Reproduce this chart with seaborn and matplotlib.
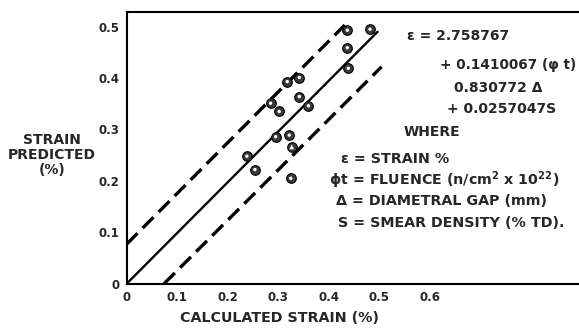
import matplotlib
matplotlib.use("Agg")
import matplotlib.pyplot as plt
import seaborn as sns
import pandas as pd

# ---- data ----
calc_strain = [0.437, 0.482, 0.437, 0.439, 0.342, 0.318, 0.342, 0.360,
               0.285, 0.302, 0.295, 0.322, 0.238, 0.254, 0.325]
pred_strain = [0.493, 0.495, 0.459, 0.419, 0.401, 0.393, 0.364, 0.346,
               0.351, 0.335, 0.286, 0.289, 0.248, 0.222, 0.205]
tri_x = [0.327]
tri_y = [0.266]

fit_x = [0.0, 0.497]
fit_y = [0.0, 0.490]
upper_x = [0.0, 0.432]
upper_y = [0.077, 0.503]
lower_x = [0.074, 0.505]
lower_y = [0.0, 0.422]

x_ticks = [0, 0.1, 0.2, 0.3, 0.4, 0.5, 0.6]
x_tick_labels = ["0", "0.1", "0.2", "0.3", "0.4", "0.5", "0.6"]
y_ticks = [0, 0.1, 0.2, 0.3, 0.4, 0.5]
y_tick_labels = ["0", "0.1", "0.2", "0.3", "0.4", "0.5"]

eq_lines = ["\u03b5 = 2.758767", "+ 0.1410067 (\u03c6 t)", "0.830772 \u0394", "+ 0.0257047S"]
eq_x = [0.556, 0.620, 0.648, 0.635]
eq_y = [0.481, 0.426, 0.381, 0.339]
eq_fs = [10, 9.8, 10, 10]
where_label = "WHERE"
where_xy = (0.549, 0.295)
legend_lines = ["\u03b5 = STRAIN %",
                r"$\mathbf{\phi}$t = FLUENCE (n/cm$^{\mathbf{2}}$ x 10$^{\mathbf{22}}$)",
                "\u0394 = DIAMETRAL GAP (mm)", "S = SMEAR DENSITY (% TD)."]
leg_x = [0.424, 0.401, 0.414, 0.418]
leg_y = [0.242, 0.202, 0.160, 0.118]
leg_fs = [10.3, 10.3, 10.3, 10.3]

sns.set_style("white")
plt.rcParams['font.family'] = ['DejaVu Sans']
plt.rcParams['font.weight'] = 'bold'
plt.rcParams['mathtext.fontset'] = 'dejavusans'
plt.rcParams['mathtext.default'] = 'bf'

fig = plt.figure(figsize=(5.79, 3.29), dpi=100)
ax = fig.add_axes([0.2188, 0.1377, 0.7812, 0.8267])

pts = pd.DataFrame({"x": calc_strain, "y": pred_strain})
tri = pd.DataFrame({"x": tri_x, "y": tri_y})

sns.lineplot(x=fit_x, y=fit_y, ax=ax, color="black", lw=1.7, sort=False)
sns.lineplot(x=upper_x, y=upper_y, ax=ax, color="black", lw=2.4, sort=False,
             dashes=False).lines[-1].set_dashes([4.6, 2.2])
sns.lineplot(x=lower_x, y=lower_y, ax=ax, color="black", lw=2.4, sort=False,
             dashes=False).lines[-1].set_dashes([4.6, 2.2])

sns.scatterplot(data=pts, x="x", y="y", ax=ax, s=48, color="#3a3a3a",
                edgecolor="black", linewidth=0.8, zorder=5)
sns.scatterplot(data=pts, x="x", y="y", ax=ax, s=6, color="white",
                edgecolor="none", zorder=6)
sns.scatterplot(data=tri, x="x", y="y", ax=ax, s=48, color="#3a3a3a", marker="o",
                edgecolor="black", linewidth=0.8, zorder=5)
sns.scatterplot(data=tri, x="x", y="y", ax=ax, s=12, color="white", marker="^",
                edgecolor="none", zorder=6)

ax.set_xlim(0, 0.896)
ax.set_ylim(0, 0.529)
ax.set_xticks(x_ticks)
ax.set_xticklabels(x_tick_labels, fontsize=8.5, fontweight="bold")
ax.set_yticks(y_ticks)
ax.set_yticklabels(y_tick_labels, fontsize=8.5, fontweight="bold")
ax.tick_params(direction="in", length=4, width=1.0, color="black")
ax.tick_params(axis="x", pad=5)
ax.tick_params(axis="y", pad=5)
for s in ["left", "bottom", "top"]:
    ax.spines[s].set_visible(True)
    ax.spines[s].set_color("black")
    ax.spines[s].set_linewidth(1.5)
ax.spines["right"].set_visible(False)
ax.set_xlabel("")
ax.set_ylabel("")

fig.text(280 / 579, 1 - 318 / 329, "CALCULATED STRAIN (%)", ha="center", va="center",
         fontsize=10.3, fontweight="bold")
fig.text(52 / 579, 1 - 155 / 329, "STRAIN\nPREDICTED\n(%)", ha="center", va="center",
         fontsize=10, fontweight="bold", linespacing=1.05)

for x, y, t, f in zip(eq_x, eq_y, eq_lines, eq_fs):
    ax.text(x, y, t, ha="left", va="center", fontsize=f, fontweight="bold", clip_on=False)
ax.text(where_xy[0], where_xy[1], where_label, ha="left", va="center", fontsize=10,
        fontweight="bold", clip_on=False)
for x, y, t, f in zip(leg_x, leg_y, legend_lines, leg_fs):
    ax.text(x, y, t, ha="left", va="center", fontsize=f, fontweight="bold", clip_on=False)

fig.savefig("out.png", dpi=100)
